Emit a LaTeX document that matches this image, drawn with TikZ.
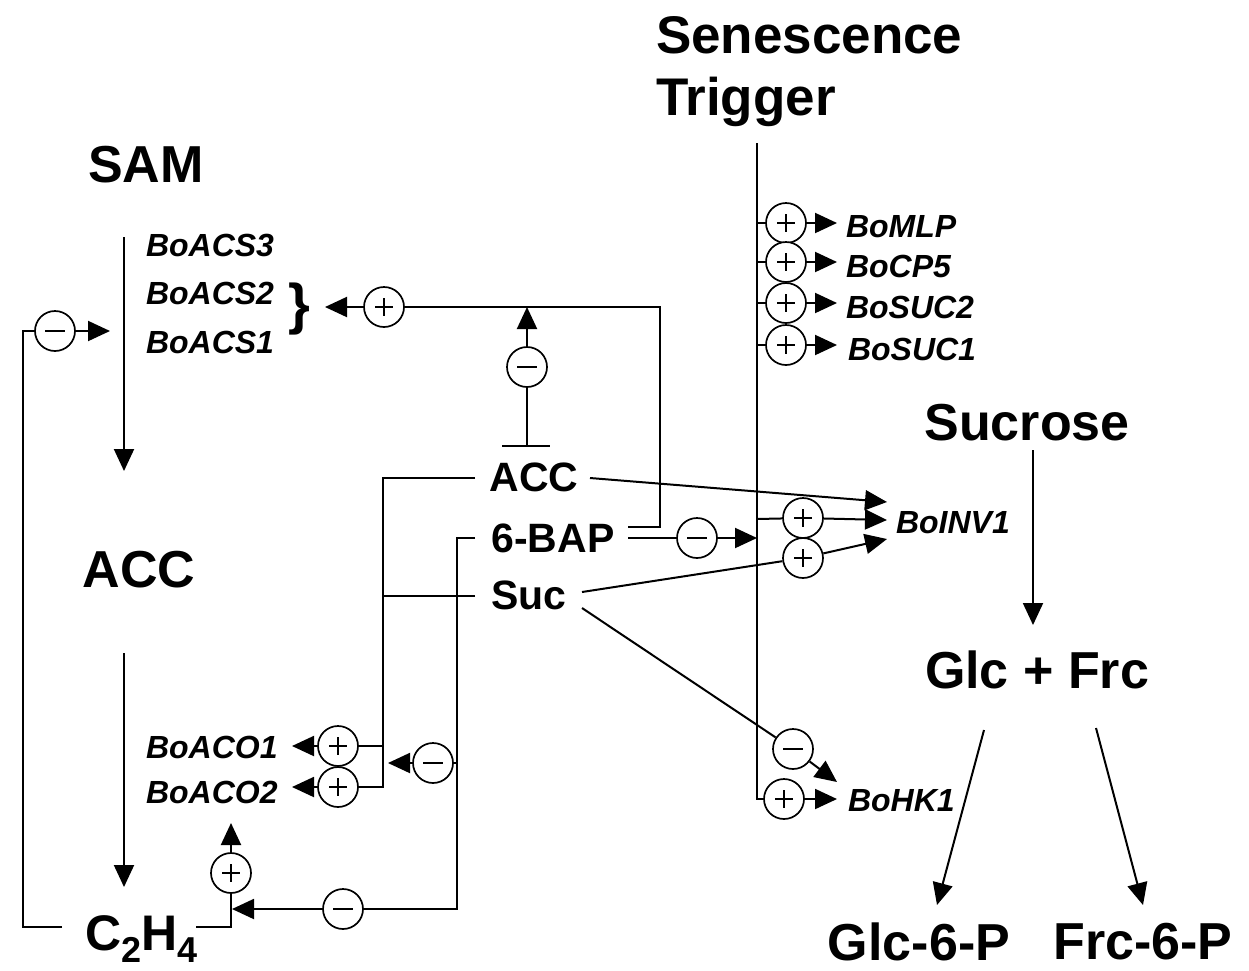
\documentclass[tikz,border=0pt]{standalone}
\usepackage{fontspec}
\setmainfont{Liberation Sans}
\usetikzlibrary{arrows.meta,calc}
\begin{document}
\begin{tikzpicture}[x=1pt,y=-1pt, line width=2pt,
  big/.style={font=\fontsize{52}{60}\selectfont\bfseries, inner sep=0pt},
  mid/.style={font=\fontsize{41}{48}\selectfont\bfseries, inner sep=0pt},
  gene/.style={font=\fontsize{32}{36}\selectfont\bfseries\itshape, inner sep=0pt, anchor=west},
  sign/.style={circle, draw, line width=1.7pt, minimum size=40pt, inner sep=0pt, fill=white},
  pcirc/.style={sign, path picture={\draw[line width=1.4pt]
      ($(path picture bounding box.center)+(-9,0)$) -- ($(path picture bounding box.center)+(9,0)$)
      ($(path picture bounding box.center)+(0,-9)$) -- ($(path picture bounding box.center)+(0,9)$);}},
  mcirc/.style={sign, path picture={\draw[line width=1.4pt]
      ($(path picture bounding box.center)+(-10,0)$) -- ($(path picture bounding box.center)+(10,0)$);}},
  arr/.style={-{Triangle[length=22pt,width=20pt]}},
]
\useasboundingbox (0,0) rectangle (1249,970);

% ---------- text nodes ----------
\node[anchor=north west, align=left, inner sep=0pt, font=\fontsize{53}{62}\selectfont\bfseries] (trig) at (655,15) {Senescence\\Trigger};
\node[big] (sam) at (146,165) {SAM};
\node[big] (accL) at (139,570) {ACC};
\node[anchor=base west, inner sep=0pt, font=\fontsize{50}{60}\selectfont\bfseries] (c2h4) at (84,950)
  {C\raisebox{-12pt}{\fontsize{36}{40}\selectfont 2}H\raisebox{-12pt}{\fontsize{36}{40}\selectfont 4}};

\node[gene] (acs3) at (145,245) {BoACS3};
\node[gene] (acs2) at (145,293) {BoACS2};
\node[gene] (acs1) at (145,342) {BoACS1};
\node[font=\fontsize{56}{60}\selectfont\bfseries, inner sep=0pt] (brace) at (299,309) {\}};

\node[gene] (aco1) at (145,747) {BoACO1};
\node[gene] (aco2) at (145,792) {BoACO2};

\node[mid] (acc) at (534,477) {ACC};
\node[mid] (bap) at (553,538) {6-BAP};
\node[mid] (suc) at (529,595) {Suc};

\node[gene] (mlp) at (845,227) {BoMLP};
\node[gene] (cp5) at (845,266) {BoCP5};
\node[gene] (suc2) at (845,307) {BoSUC2};
\node[gene] (suc1) at (847,349) {BoSUC1};
\node[gene] (inv1) at (895,523) {BoINV1};
\node[gene] (hk1) at (847,801) {BoHK1};

\node[big] (sucrose) at (1027,423) {Sucrose};
\node[big] (glcfrc) at (1037,670) {Glc + Frc};
\node[big] (g6p) at (919,942) {Glc-6-P};
\node[big] (f6p) at (1143,942) {Frc-6-P};

% ---------- sign circles ----------
\node[mcirc] (m_fb) at (55,331) {};
\node[pcirc] (p_acs) at (384,307) {};
\node[mcirc] (m_inh) at (527,367) {};
\node[pcirc] (p_aco1) at (338,746) {};
\node[pcirc] (p_aco2) at (338,787) {};
\node[mcirc] (m_aco) at (433,763) {};
\node[pcirc] (p_eth) at (231,873) {};
\node[mcirc] (m_eth) at (343,909) {};
\node[mcirc] (m_bap) at (697,538) {};
\node[pcirc] (p_mlp) at (786,223) {};
\node[pcirc] (p_cp5) at (786,262) {};
\node[pcirc] (p_suc2) at (786,303) {};
\node[pcirc] (p_suc1) at (786,345) {};
\node[pcirc] (p_inv1) at (803,518) {};
\node[pcirc] (p_inv2) at (803,558) {};
\node[mcirc] (m_hk) at (793,749) {};
\node[pcirc] (p_hk) at (784,799) {};

% ---------- connector end points ----------
\coordinate (samOut) at (124,237);
\coordinate (accIn) at (124,471);
\coordinate (accOut) at (124,653);
\coordinate (ethIn) at (124,887);
\coordinate (ethL) at (62,927);
\coordinate (ethR) at (196,927);
\coordinate (acsIn) at (110,331);
\coordinate (acoIn) at (231,823);
\coordinate (ethJ) at (232,909);
\coordinate (braceIn) at (325,307);
\coordinate (tbar) at (527,446);
\coordinate (accW) at (475,478);
\coordinate (accE) at (590,478);
\coordinate (bapW) at (475,538);
\coordinate (bapE1) at (628,527);
\coordinate (bapE2) at (628,538);
\coordinate (sucW) at (475,596);
\coordinate (sucE1) at (582,592);
\coordinate (sucE2) at (582,608);
\coordinate (senTop) at (757,143);
\coordinate (invA) at (887,502);
\coordinate (invB) at (887,520);
\coordinate (invC) at (887,539);
\coordinate (hkA) at (837,782);
\coordinate (hkB) at (837,799);
\coordinate (sucrOut) at (1033,450);
\coordinate (glcIn) at (1033,625);
\coordinate (glcOutL) at (984,730);
\coordinate (glcOutR) at (1096,728);
\coordinate (g6pIn) at (937,905);
\coordinate (f6pIn) at (1143,905);

% ---------- left pathway ----------
\draw[arr] (samOut) -- (accIn);
\draw[arr] (accOut) -- (ethIn);
\draw (ethL) -- (23,927) |- (m_fb);
\draw[arr] (m_fb) -- (acsIn);
\draw (ethR) -| (p_eth);
\draw[arr] (p_eth) -- (acoIn);

% ACC / Suc -> ACO
\draw (accW) -- (383,478) |- (p_aco2);
\draw (383,746) -- (p_aco1);
\draw (sucW) -- (383,596);
\draw[arr] (p_aco1) -- (292,746);
\draw[arr] (p_aco2) -- (292,787);

% 6-BAP inhibitions
\draw (bapW) -- (457,538) |- (m_eth);
\draw[arr] (m_eth) -- (ethJ);
\draw (457,763) -- (m_aco);
\draw[arr] (m_aco) -- (388,763);

% ACC T-bar and 6-BAP -> ACS
\draw (502,446) -- (550,446);
\draw (tbar) -- (m_inh);
\draw[arr] (m_inh) -- (527,307);
\draw (bapE1) -- (660,527) |- (p_acs);
\draw[arr] (p_acs) -- (braceIn);

% ---------- senescence trigger ----------
\draw (senTop) |- (p_hk);
\draw (757,223) -- (p_mlp);
\draw (757,262) -- (p_cp5);
\draw (757,303) -- (p_suc2);
\draw (757,345) -- (p_suc1);
\draw[arr] (p_mlp) -- (837,223);
\draw[arr] (p_cp5) -- (837,262);
\draw[arr] (p_suc2) -- (837,303);
\draw[arr] (p_suc1) -- (837,345);
\draw (757,519) -- (p_inv1);
\draw[arr] (p_inv1) -- (invB);
\draw[arr] (accE) -- (invA);
\draw (sucE1) -- (p_inv2);
\draw[arr] (p_inv2) -- (invC);
\draw (bapE2) -- (m_bap);
\draw[arr] (m_bap) -- (757,538);
\draw (sucE2) -- (m_hk);
\draw[arr] (m_hk) -- (hkA);
\draw[arr] (p_hk) -- (hkB);

% ---------- sucrose branch ----------
\draw[arr] (sucrOut) -- (glcIn);
\draw[arr] (glcOutL) -- (g6pIn);
\draw[arr] (glcOutR) -- (f6pIn);
\end{tikzpicture}
\end{document}
